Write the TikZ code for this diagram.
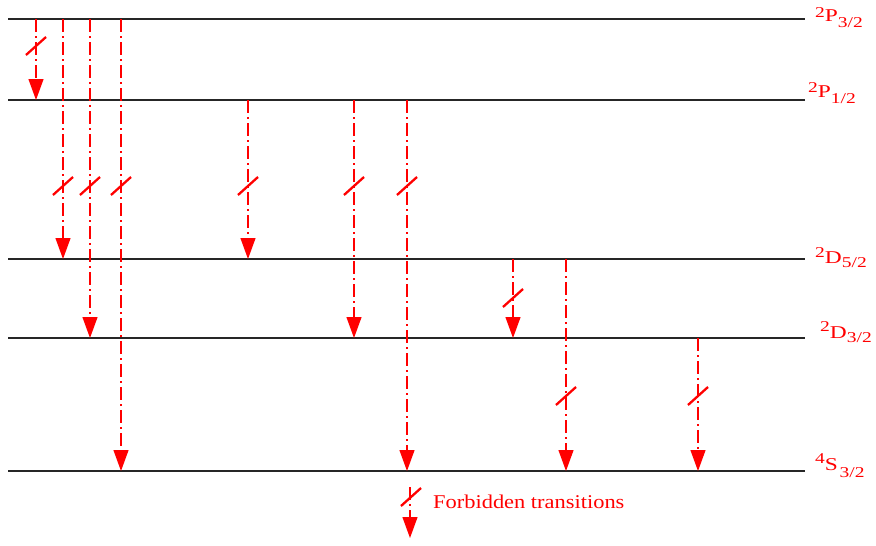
\documentclass[tikz,border=0pt]{standalone}
\usepackage{fontspec}
\setmainfont{Liberation Serif}
\newfontfamily\labfont[FakeStretch=1.3]{Liberation Serif}
\newfontfamily\legfont[FakeStretch=1.15]{Liberation Serif}
\usetikzlibrary{arrows.meta}
\newcommand\supx[2]{{\fontsize{15}{15}\selectfont\raisebox{#1}{#2}}}
\newcommand\bigx[1]{{\fontsize{18}{18}\selectfont #1}}
\begin{document}
\begin{tikzpicture}[x=1pt,y=-1pt,
  level/.style={draw=black!85, line width=1.3pt},
  trans/.style={draw=red, line width=1.2pt, dash pattern=on 13pt off 4pt on 2pt off 4pt,
    -{Triangle[width=15pt,length=21pt]}},
  forb/.style={draw=red, line width=2.3pt},
  fslash/.pic={\draw[forb] (-10,9) -- (10,-9);},
  lbl/.style={text=red, anchor=base west, inner sep=0pt, font=\labfont}]
\useasboundingbox (0,0) rectangle (876,546);
% levels
\foreach \n/\y in {A/19,B/100,C/259,D/338,E/471}{
  \coordinate (\n l) at (8,\y);
  \coordinate (\n r) at (805,\y);
  \draw[level] (\n l) -- (\n r);
}
% labels
\node[lbl] (labA) at (815,21) {\supx{4pt}{2}\bigx{P}\supx{-6pt}{3/2}};
\node[lbl] (labB) at (808,97) {\supx{5pt}{2}\bigx{P}\supx{-6pt}{1/2}};
\node[lbl] (labC) at (815,263) {\supx{6pt}{2}\bigx{D}\supx{-4pt}{5/2}};
\node[lbl] (labD) at (820,338) {\supx{7pt}{2}\bigx{D}\supx{-4pt}{3/2}};
\node[lbl] (labE) at (815,470) {\supx{7pt}{4}\bigx{S}\,\supx{-7pt}{3/2}};
% transitions
\foreach \i/\x/\ya/\yb/\ys in {1/36/19/100/46, 2/63/19/259/186, 3/90/19/338/186,
  4/121/19/471/186, 5/248/100/259/186, 6/354/100/338/186, 7/407/100/471/186,
  8/513/259/338/298, 9/566/259/471/396, 10/698/338/471/396}{
  \coordinate (s\i) at (\x,\ya);
  \coordinate (e\i) at (\x,\yb);
  \coordinate (f\i) at (\x,\ys);
  \draw[trans] (s\i) -- (e\i);
  \pic at (f\i) {fslash};
}
% legend
\coordinate (ls) at (410,487);
\coordinate (le) at (410,538);
\coordinate (lf) at (411,497);
\draw[trans] (ls) -- (le);
\pic at (lf) {fslash};
\node[text=red, anchor=base west, inner sep=0pt, font=\legfont\fontsize{19.5}{20}\selectfont] (legtxt) at (433,508) {Forbidden transitions};
\end{tikzpicture}
\end{document}
